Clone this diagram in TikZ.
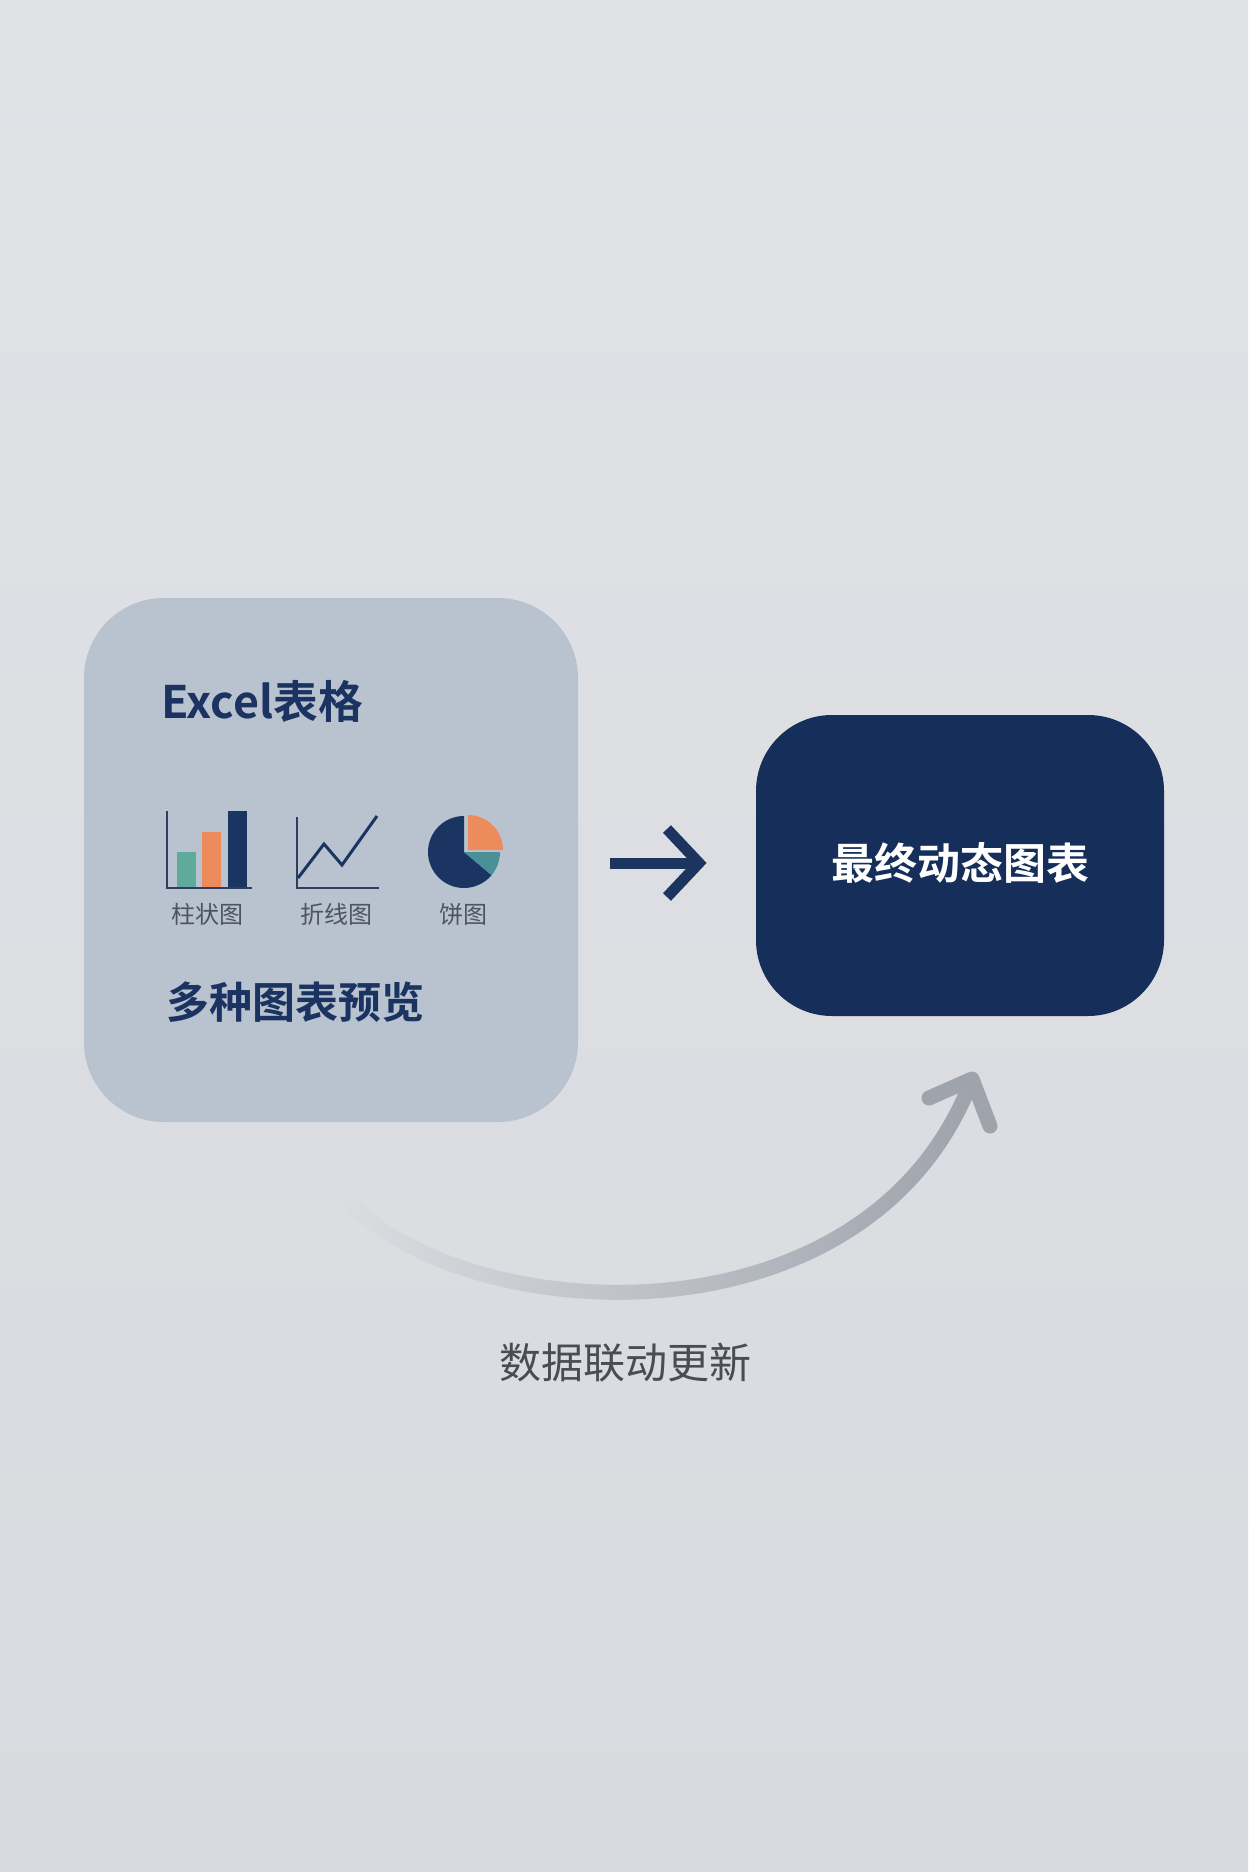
\documentclass[tikz,border=0pt]{standalone}
\usepackage{fontspec}
\setmainfont{Noto Sans CJK SC}[BoldFont={Noto Sans CJK SC Bold}]
\usetikzlibrary{fadings}
\definecolor{bgtop}{HTML}{E1E2E6}
\definecolor{bgbot}{HTML}{D9DADF}
\definecolor{boxgray}{HTML}{B9C2CF}
\definecolor{navybox}{HTML}{152E5A}
\definecolor{navytext}{HTML}{1A3360}
\definecolor{arrnavy}{HTML}{1B355F}
\definecolor{curvegray}{HTML}{9EA3AC}
\definecolor{labelgray}{HTML}{4D5463}
\definecolor{capgray}{HTML}{4A4C52}
\definecolor{barteal}{HTML}{5FAB9B}
\definecolor{barorange}{HTML}{EC8C5C}
\definecolor{barnavy}{HTML}{1B3562}
\definecolor{pieteal}{HTML}{4B8F99}
\definecolor{axiscol}{HTML}{2E3F5E}
\tikzfading[name=arcfade, left color=transparent!100, middle color=transparent!10, right color=transparent!0]
\begin{document}
\begin{tikzpicture}[x=0.5pt,y=-0.5pt,
  lboxstyle/.style={fill=boxgray, rounded corners=40pt, minimum width=247pt, minimum height=262pt, inner sep=0pt},
  rboxstyle/.style={fill=navybox, rounded corners=38pt, minimum width=204pt, minimum height=150.5pt, inner sep=0pt},
  titlestyle/.style={font=\bfseries\fontsize{21.5pt}{26pt}\selectfont, text=navytext, inner sep=0pt, anchor=west},
  whitetitle/.style={font=\bfseries\fontsize{21.5pt}{26pt}\selectfont, text=white, inner sep=0pt},
  captionstyle/.style={font=\fontsize{21pt}{26pt}\selectfont, text=capgray, inner sep=0pt},
  iconlabel/.style={font=\fontsize{12pt}{14pt}\selectfont, text=labelgray, inner sep=0pt},
  axisline/.style={draw=axiscol, line width=1.2pt},
  navyarrow/.style={draw=arrnavy, line width=5.5pt},
  curveline/.style={draw=curvegray, line width=7.5pt}
]
\useasboundingbox (0,0) rectangle (1248,1872);
\shade[top color=bgtop, bottom color=bgbot] (0,0) rectangle (1248,1872);

% boxes
\node[lboxstyle] (lbox) at (331,860) {};
\node[rboxstyle] (rbox) at (960,865.5) {};

% texts
\node[titlestyle, font=\bfseries\fontsize{22.4pt}{26pt}\selectfont] (excel) at (161,701) {Excel表格};
\node[titlestyle] (preview) at (166,1002) {多种图表预览};
\node[whitetitle] (final) at (960,863) {最终动态图表};
\node[captionstyle] (update) at (625,1363) {数据联动更新};

% bar chart icon
\fill[barteal] (177,852) rectangle (196,887);
\fill[barorange] (202,832) rectangle (221,887);
\fill[barnavy] (228,811) rectangle (247,887);
\draw[axisline] (167,811) -- (167,888) -- (252,888);
\node[iconlabel] (barlabel) at (207,914) {柱状图};

% line chart icon
\draw[axisline] (297,817) -- (297,888) -- (379,888);
\draw[draw=barnavy, line width=1.5pt, line join=miter] (298,878) -- (324,844) -- (342,865) -- (377,816);
\node[iconlabel] (linelabel) at (336,914) {折线图};

% pie chart icon
\begin{scope}[shift={(464,852)}, x=0.5pt, y=0.5pt]
  \fill[barnavy] (0,0) -- (90:36) arc[start angle=90, end angle=320, radius=36] -- cycle;
  \fill[pieteal] (0,0) -- (320:36) arc[start angle=320, end angle=360, radius=36] -- cycle;
  \fill[barorange] (4,2) -- ++(0:35) arc[start angle=0, end angle=90, radius=35] -- cycle;
\end{scope}
\node[iconlabel] (pielabel) at (463,914) {饼图};

% straight arrow
\coordinate (sa) at (610,863);
\coordinate (sb) at (697,863);
\coordinate (sup1) at (667,829);
\coordinate (stip) at (699,863);
\coordinate (sdn1) at (667,897);
\draw[navyarrow] (sa) -- (sb);
\draw[navyarrow, line join=miter] (sup1) -- (stip) -- (sdn1);

% curved arrow
\coordinate (cs) at (347,1200);
\coordinate (ce) at (972,1079);
\coordinate (ch1) at (929,1098);
\coordinate (ch2) at (990,1126);
\draw[curveline, path fading=arcfade, fit fading=true] (cs) .. controls (470,1330) and (870,1350) .. (ce);
\draw[curveline, line cap=round, line join=round] (ch1) -- (ce) -- (ch2);
\end{tikzpicture}
\end{document}
